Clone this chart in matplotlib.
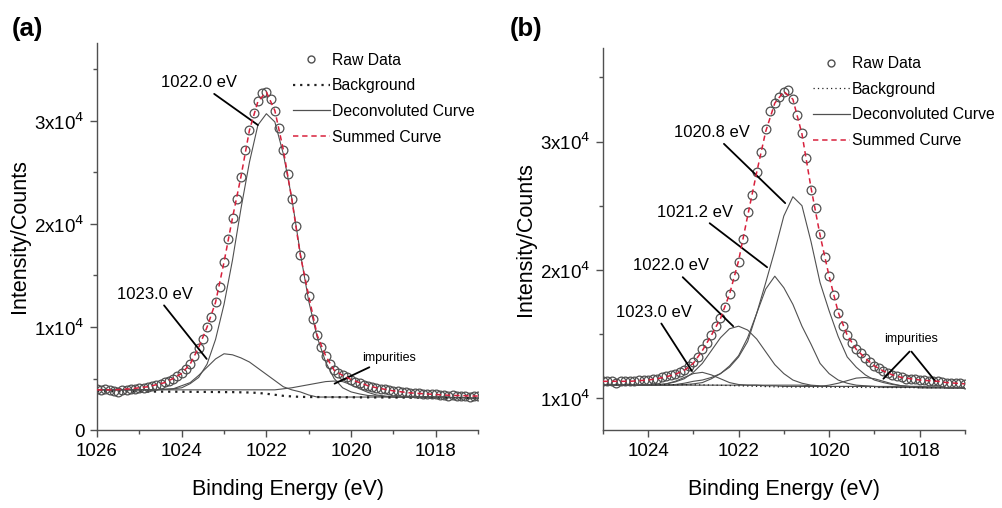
"""XPS Ni 2p deconvolution, two panels"""
import numpy as np
import matplotlib
matplotlib.use("Agg")
import matplotlib.pyplot as plt
from matplotlib.lines import Line2D

plt.rcParams["font.family"] = ["Liberation Sans", "DejaVu Sans"]

# ---------------- panel (a) : values in units of 1e4 counts ----------------
energy_raw_a = np.round(np.arange(1026.0, 1016.95, -0.1), 1)
raw_a = [0.40, 0.39, 0.40, 0.39, 0.38, 0.37, 0.39, 0.39, 0.40, 0.40,
         0.41, 0.41, 0.42, 0.43, 0.44, 0.45, 0.47, 0.48, 0.50, 0.52,
         0.55, 0.59, 0.64, 0.72, 0.80, 0.88, 1.00, 1.10, 1.24, 1.39,
         1.63, 1.85, 2.06, 2.24, 2.46, 2.72, 2.91, 3.08, 3.19, 3.27,
         3.28, 3.21, 3.10, 2.93, 2.72, 2.48, 2.24, 1.98, 1.70, 1.48,
         1.30, 1.08, 0.92, 0.81, 0.72, 0.64, 0.58, 0.55, 0.53, 0.51,
         0.49, 0.47, 0.46, 0.44, 0.43, 0.42, 0.41, 0.40, 0.395, 0.39,
         0.38, 0.375, 0.37, 0.365, 0.36, 0.36, 0.355, 0.35, 0.35, 0.345,
         0.345, 0.34, 0.34, 0.335, 0.34, 0.33, 0.335, 0.33, 0.32, 0.33,
         0.33]

energy_fit_a = np.round(np.arange(1026.0, 1016.95, -0.2), 1)
summed_a = [0.39, 0.39, 0.39, 0.395, 0.40, 0.41, 0.42, 0.44, 0.46, 0.50,
            0.55, 0.64, 0.80, 1.00, 1.24, 1.63, 2.06, 2.46, 2.91, 3.19,
            3.28, 3.10, 2.72, 2.24, 1.70, 1.30, 0.92, 0.72, 0.58, 0.53,
            0.49, 0.46, 0.43, 0.41, 0.395, 0.38, 0.37, 0.36, 0.355, 0.35,
            0.345, 0.34, 0.335, 0.335, 0.33, 0.33]
background_a = [0.375, 0.375, 0.375, 0.375, 0.374, 0.374, 0.373, 0.373,
                0.372, 0.372, 0.371, 0.371, 0.370, 0.370, 0.369, 0.368,
                0.368, 0.366, 0.364, 0.360, 0.352, 0.342, 0.332, 0.326,
                0.322, 0.320, 0.320, 0.319, 0.319, 0.318, 0.318, 0.317,
                0.317, 0.316, 0.316, 0.315, 0.315, 0.314, 0.314, 0.313,
                0.313, 0.312, 0.312, 0.311, 0.311, 0.310]
peak_1022_a = [0.39, 0.39, 0.39, 0.39, 0.39, 0.39, 0.39, 0.39, 0.395, 0.40,
               0.41, 0.45, 0.51, 0.64, 0.88, 1.22, 1.65, 2.15, 2.60, 2.96,
               3.07, 2.99, 2.68, 2.25, 1.72, 1.25, 0.90, 0.66, 0.50, 0.41,
               0.37, 0.35, 0.335, 0.33, 0.325, 0.32, 0.32, 0.32, 0.32, 0.32,
               0.32, 0.32, 0.315, 0.315, 0.31, 0.31]
peak_1023_a = [0.39, 0.39, 0.39, 0.39, 0.39, 0.39, 0.39, 0.39, 0.395, 0.40,
               0.43, 0.46, 0.53, 0.61, 0.69, 0.74, 0.73, 0.70, 0.66, 0.60,
               0.54, 0.48, 0.42, 0.39, 0.37, 0.34, 0.32, 0.32, 0.32, 0.32,
               0.32, 0.32, 0.32, 0.32, 0.32, 0.32, 0.32, 0.32, 0.32, 0.32,
               0.32, 0.32, 0.315, 0.315, 0.31, 0.31]
impurity_a = [0.39, 0.39, 0.39, 0.39, 0.39, 0.39, 0.39, 0.39, 0.39, 0.39,
              0.39, 0.39, 0.39, 0.39, 0.39, 0.39, 0.39, 0.39, 0.39, 0.39,
              0.39, 0.39, 0.40, 0.41, 0.425, 0.44, 0.455, 0.47, 0.475, 0.47,
              0.44, 0.40, 0.365, 0.34, 0.33, 0.32, 0.32, 0.32, 0.32, 0.32,
              0.32, 0.32, 0.315, 0.315, 0.31, 0.31]

# ---------------- panel (b) ----------------
energy_raw_b = np.round(np.arange(1025.0, 1016.95, -0.1), 1)
raw_b = [1.13, 1.13, 1.13, 1.12, 1.13, 1.13, 1.13, 1.13, 1.14, 1.14,
         1.14, 1.15, 1.15, 1.16, 1.17, 1.18, 1.19, 1.20, 1.22, 1.25,
         1.28, 1.32, 1.38, 1.43, 1.49, 1.56, 1.62, 1.71, 1.81, 1.95,
         2.06, 2.24, 2.45, 2.58, 2.76, 2.92, 3.10, 3.24, 3.30, 3.35,
         3.39, 3.40, 3.33, 3.21, 3.07, 2.87, 2.62, 2.48, 2.28, 2.10,
         1.95, 1.80, 1.66, 1.56, 1.49, 1.43, 1.38, 1.35, 1.31, 1.28,
         1.25, 1.23, 1.21, 1.195, 1.18, 1.17, 1.16, 1.15, 1.15, 1.145,
         1.14, 1.14, 1.135, 1.13, 1.13, 1.125, 1.12, 1.12, 1.115, 1.115,
         1.11]

energy_fit_b = np.round(np.arange(1025.0, 1016.95, -0.2), 1)
summed_b = [1.13, 1.13, 1.13, 1.13, 1.135, 1.14, 1.15, 1.165, 1.185, 1.215,
            1.27, 1.37, 1.49, 1.62, 1.81, 2.07, 2.42, 2.76, 3.08, 3.30,
            3.39, 3.33, 3.06, 2.64, 2.27, 1.95, 1.67, 1.49, 1.38, 1.31,
            1.25, 1.21, 1.18, 1.16, 1.15, 1.14, 1.135, 1.13, 1.12, 1.115,
            1.11]
background_b = [1.105, 1.105, 1.105, 1.105, 1.105, 1.105, 1.105, 1.104,
                1.104, 1.103, 1.103, 1.102, 1.101, 1.099, 1.097, 1.095,
                1.093, 1.091, 1.089, 1.087, 1.086, 1.085, 1.085, 1.084,
                1.084, 1.084, 1.083, 1.083, 1.083, 1.082, 1.082, 1.082,
                1.081, 1.081, 1.081, 1.080, 1.080, 1.080, 1.079, 1.079,
                1.079]
peak_1020p8_b = [1.10, 1.10, 1.10, 1.10, 1.10, 1.10, 1.10, 1.10, 1.10, 1.105,
                 1.11, 1.12, 1.15, 1.19, 1.25, 1.33, 1.47, 1.66, 1.90, 2.15,
                 2.42, 2.57, 2.50, 2.22, 1.90, 1.68, 1.48, 1.32, 1.24, 1.18,
                 1.14, 1.12, 1.105, 1.095, 1.09, 1.09, 1.085, 1.085, 1.08,
                 1.08, 1.08]
peak_1021p2_b = [1.10, 1.10, 1.10, 1.10, 1.10, 1.10, 1.10, 1.10, 1.105, 1.115,
                 1.13, 1.14, 1.16, 1.19, 1.24, 1.32, 1.44, 1.66, 1.85, 1.95,
                 1.86, 1.73, 1.56, 1.42, 1.27, 1.19, 1.14, 1.115, 1.10, 1.095,
                 1.09, 1.09, 1.09, 1.085, 1.085, 1.085, 1.08, 1.08, 1.08,
                 1.08, 1.08]
peak_1022_b = [1.10, 1.10, 1.10, 1.10, 1.10, 1.10, 1.105, 1.11, 1.125, 1.15,
               1.20, 1.27, 1.37, 1.47, 1.54, 1.56, 1.53, 1.46, 1.36, 1.26,
               1.19, 1.14, 1.115, 1.10, 1.095, 1.09, 1.09, 1.09, 1.09, 1.09,
               1.09, 1.085, 1.085, 1.085, 1.085, 1.08, 1.08, 1.08, 1.08,
               1.08, 1.08]
peak_1023_b = [1.10, 1.10, 1.10, 1.10, 1.10, 1.10, 1.10, 1.11, 1.13, 1.16,
               1.19, 1.20, 1.18, 1.15, 1.12, 1.105, 1.10, 1.10, 1.095, 1.095,
               1.09, 1.09, 1.09, 1.09, 1.09, 1.09, 1.09, 1.09, 1.09, 1.09,
               1.09, 1.085, 1.085, 1.085, 1.085, 1.08, 1.08, 1.08, 1.08,
               1.08, 1.08]
impurity_b = [1.10, 1.10, 1.10, 1.10, 1.10, 1.10, 1.10, 1.10, 1.10, 1.10,
              1.10, 1.10, 1.10, 1.10, 1.10, 1.10, 1.10, 1.10, 1.10, 1.10,
              1.10, 1.10, 1.10, 1.095, 1.09, 1.10, 1.115, 1.135, 1.155, 1.16,
              1.15, 1.13, 1.11, 1.095, 1.09, 1.09, 1.085, 1.085, 1.08,
              1.08, 1.08]

GREY = "#505050"
RED = "#d8203c"
TICK_LABELS = ["0", "1x10$^4$", "2x10$^4$", "3x10$^4$"]
LEGEND_LABELS = ["Raw Data", "Background", "Deconvoluted Curve",
                 "Summed Curve"]


def draw_panel(ax, e_raw, raw, e_fit, summed, background, components, bg_style):
    """Trace un panneau : données brutes, fond, pics et somme"""
    for comp in components:
        ax.plot(e_fit, comp, color=GREY, lw=0.8, zorder=2)
    ax.plot(e_fit, background, color="#222222", lw=bg_style[0],
            ls=(0, bg_style[1]), zorder=2)
    ax.plot(e_raw, raw, ls="none", marker="o", ms=6.3, mfc="none",
            mec=GREY, mew=0.9, zorder=3)
    ax.plot(e_fit, summed, color=RED, lw=1.1, ls=(0, (3.5, 2.5)), zorder=4)

    for side in ("top", "right"):
        ax.spines[side].set_visible(False)
    for side in ("left", "bottom"):
        ax.spines[side].set_color(GREY)
        ax.spines[side].set_linewidth(1.0)
    ax.tick_params(which="both", direction="out", color=GREY,
                   labelsize=13.5, pad=4)
    ax.tick_params(which="major", length=5, width=1.0)
    ax.tick_params(which="minor", length=3, width=1.0)
    ax.set_xlabel("Binding Energy (eV)", fontsize=15.5, labelpad=14)
    ax.set_ylabel("Intensity/Counts", fontsize=15.5, labelpad=3)

    handles = [
        Line2D([], [], ls="none", marker="o", ms=5, mfc="none", mec=GREY),
        Line2D([], [], color="#222222", lw=bg_style[0], ls=(0, bg_style[1])),
        Line2D([], [], color=GREY, lw=0.9),
        Line2D([], [], color=RED, lw=1.1, ls=(0, (3.5, 2.5))),
    ]
    return handles


def add_legend(ax, handles, anchor):
    """Légende sans cadre"""
    ax.legend(handles, LEGEND_LABELS, loc="upper left", bbox_to_anchor=anchor,
              frameon=False, fontsize=11.3, handlelength=2.35,
              handletextpad=0.15, labelspacing=0.68, borderpad=0,
              borderaxespad=0)


fig = plt.figure(figsize=(10.03, 5.08), dpi=100)
arrow = dict(arrowstyle="-", color="black", lw=1.3, shrinkA=1, shrinkB=0)

# panel (a)
ax_a = fig.add_axes([0.0967, 0.1535, 0.380, 0.762])
h = draw_panel(ax_a, energy_raw_a, raw_a, energy_fit_a, summed_a,
               background_a, [peak_1022_a, peak_1023_a, impurity_a],
               (1.6, (1, 2.2)))
ax_a.set_xlim(1026, 1017)
ax_a.set_ylim(0, 3.757)
ax_a.set_xticks([1026, 1024, 1022, 1020, 1018])
ax_a.set_xticks(np.arange(1017, 1027, 1), minor=True)
ax_a.set_yticks([0, 1, 2, 3])
ax_a.set_yticklabels(TICK_LABELS)
ax_a.set_yticks([0.5, 1.5, 2.5, 3.5], minor=True)
add_legend(ax_a, h, (0.514, 0.975))

ax_a.annotate("1022.0 eV", xy=(1022.2, 2.96), xytext=(1023.6, 3.37),
              fontsize=12, ha="center", va="center", arrowprops=arrow)
ax_a.annotate("1023.0 eV", xy=(1023.41, 0.69), xytext=(1024.63, 1.32),
              fontsize=12, ha="center", va="center", arrowprops=arrow)
ax_a.annotate("impurities", xy=(1020.39, 0.45), xytext=(1019.1, 0.70),
              fontsize=9, ha="center", va="center", arrowprops=arrow)

# panel (b)
ax_b = fig.add_axes([0.601, 0.1535, 0.361, 0.752])
h = draw_panel(ax_b, energy_raw_b, raw_b, energy_fit_b, summed_b,
               background_b,
               [peak_1020p8_b, peak_1021p2_b, peak_1022_b, peak_1023_b,
                impurity_b],
               (0.9, (1, 2.5)))
ax_b.set_xlim(1025, 1017)
ax_b.set_ylim(0.75, 3.73)
ax_b.set_xticks([1024, 1022, 1020, 1018])
ax_b.set_xticks(np.arange(1017, 1026, 1), minor=True)
ax_b.set_yticks([1, 2, 3])
ax_b.set_yticklabels(TICK_LABELS[1:])
ax_b.set_yticks([1.5, 2.5, 3.5], minor=True)
add_legend(ax_b, h, (0.58, 0.979))

ax_b.annotate("1020.8 eV", xy=(1020.97, 2.52), xytext=(1022.58, 3.07),
              fontsize=12, ha="center", va="center", arrowprops=arrow)
ax_b.annotate("1021.2 eV", xy=(1021.37, 2.02), xytext=(1022.96, 2.45),
              fontsize=12, ha="center", va="center", arrowprops=arrow)
ax_b.annotate("1022.0 eV", xy=(1022.12, 1.56), xytext=(1023.49, 2.03),
              fontsize=12, ha="center", va="center", arrowprops=arrow)
ax_b.annotate("1023.0 eV", xy=(1023.03, 1.21), xytext=(1023.87, 1.67),
              fontsize=12, ha="center", va="center", arrowprops=arrow)
ax_b.text(1018.2, 1.46, "impurities", fontsize=9, ha="center", va="center")
ax_b.annotate("", xy=(1018.8, 1.15), xytext=(1018.2, 1.37), arrowprops=arrow)
ax_b.annotate("", xy=(1017.65, 1.13), xytext=(1018.2, 1.37), arrowprops=arrow)

# panel labels
for x_pos, txt in ((0.012, "(a)"), (0.508, "(b)")):
    fig.text(x_pos, 0.942, txt, fontsize=18.5, fontweight="bold", va="center")

fig.savefig("out.png", dpi=100)
